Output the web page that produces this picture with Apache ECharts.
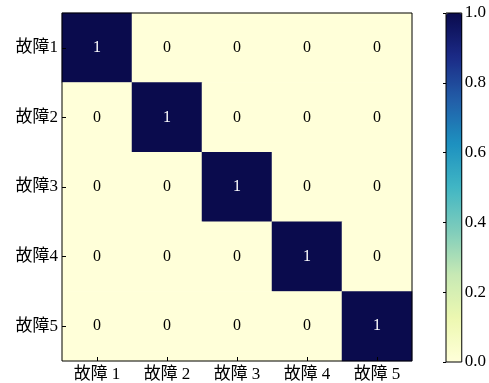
<!DOCTYPE html>
<html>
<head>
<meta charset="utf-8">
<script src="https://cdn.jsdelivr.net/npm/echarts@6/dist/echarts.min.js"></script>
<style>
  html, body { margin: 0; padding: 0; background: #fff; }
  #chart { width: 489px; height: 383px; }
</style>
</head>
<body>
<div id="chart"></div>
<script>
// Fault classes along each axis
const rowLabels = ['故障1', '故障2', '故障3', '故障4', '故障5'];
const colLabels = ['故障 1', '故障 2', '故障 3', '故障 4', '故障 5'];
// Confusion matrix, one row per true class
const row1 = [1, 0, 0, 0, 0];
const row2 = [0, 1, 0, 0, 0];
const row3 = [0, 0, 1, 0, 0];
const row4 = [0, 0, 0, 1, 0];
const row5 = [0, 0, 0, 0, 1];
const matrix = [row1, row2, row3, row4, row5];
// Colour bar range and ticks
const barMin = 0, barMax = 1, barStep = 0.2;
const ylgnbu = ['#ffffd9', '#edf8b1', '#c7e9b4', '#7fcdbb', '#41b6c4',
                '#1d91c0', '#225ea8', '#1b2a86', '#0a0b4d'];

const font = "'Liberation Serif', 'Noto Sans CJK SC', serif";

const cells = [];
matrix.forEach((row, r) => {
  row.forEach((v, c) => {
    cells.push({
      value: [c, r, v],
      label: { color: v > 0.5 ? '#ffffff' : '#000000' }
    });
  });
});

const chart = echarts.init(document.getElementById('chart'), null, { renderer: 'canvas' });
chart.setOption({
  animation: false,
  backgroundColor: '#ffffff',
  grid: [
    { left: 62, top: 13, width: 350, height: 349, show: true,
      borderColor: '#000', borderWidth: 1, backgroundColor: 'transparent', z: 5 },
    { left: 446, top: 13, width: 16, height: 349, show: true,
      borderColor: '#000', borderWidth: 1, backgroundColor: 'transparent', z: 5 }
  ],
  xAxis: [
    { type: 'category', gridIndex: 0, data: colLabels,
      axisLine: { show: false },
      axisTick: { show: true, inside: true, alignWithLabel: true, length: 4,
                  lineStyle: { color: '#000' } },
      axisLabel: { fontFamily: font, fontSize: 17, color: '#000', margin: 5 },
      splitLine: { show: false }, z: 6 },
    { type: 'value', gridIndex: 1, show: false, min: 0, max: 1 }
  ],
  yAxis: [
    { type: 'category', gridIndex: 0, data: rowLabels, inverse: true,
      axisLine: { show: false },
      axisTick: { show: true, inside: true, alignWithLabel: true, length: 4,
                  lineStyle: { color: '#000' } },
      axisLabel: { fontFamily: font, fontSize: 17, color: '#000', margin: 4 },
      splitLine: { show: false }, z: 6 },
    { type: 'value', gridIndex: 1, position: 'right', min: barMin, max: barMax,
      interval: barStep,
      axisLine: { show: false },
      axisTick: { show: true, inside: true, length: 3, lineStyle: { color: '#000' } },
      axisLabel: { fontFamily: font, fontSize: 17, color: '#000', margin: 3,
                   formatter: v => v.toFixed(1) },
      splitLine: { show: false }, z: 6 }
  ],
  visualMap: {
    type: 'continuous', min: barMin, max: barMax, seriesIndex: 0,
    orient: 'vertical', left: 446, top: 13, padding: 0,
    itemWidth: 16, itemHeight: 349, text: ['', ''], textGap: 0,
    calculable: false, hoverLink: false,
    inRange: { color: ylgnbu }
  },
  series: [{
    type: 'heatmap', xAxisIndex: 0, yAxisIndex: 0,
    data: cells,
    label: { show: true, fontFamily: font, fontSize: 16,
             formatter: p => String(p.value[2]) },
    itemStyle: { borderWidth: 0 },
    emphasis: { disabled: true }
  }]
});
</script>
</body>
</html>
